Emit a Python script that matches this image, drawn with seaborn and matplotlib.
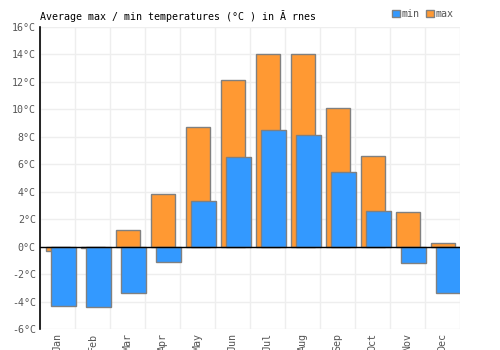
import matplotlib
matplotlib.use("Agg")
import matplotlib.pyplot as plt
import seaborn as sns
import pandas as pd
import numpy as np

sns.set_style("white")
plt.rcParams['font.family'] = ['DejaVu Sans Mono']

# Data
months = ["Jan", "Feb", "Mar", "Apr", "May", "Jun",
          "Jul", "Aug", "Sep", "Oct", "Nov", "Dec"]
t_max = [-0.3, -0.1, 1.2, 3.8, 8.7, 12.1, 14.0, 14.0, 10.1, 6.6, 2.5, 0.3]
t_min = [-4.3, -4.4, -3.4, -1.1, 3.3, 6.5, 8.5, 8.1, 5.4, 2.6, -1.2, -3.4]
y_ticks = list(range(-6, 17, 2))

c_min = "#3399ff"
c_max = "#ff9933"
edge = "#808080"
txt = "#555555"

idx = np.arange(len(months))
df_max = pd.DataFrame({"x": idx + 0.014, "t": t_max})
df_min = pd.DataFrame({"x": idx + 0.17, "t": t_min})

fig = plt.figure(figsize=(5, 3.5), dpi=100)
ax = fig.add_axes([0.08, 0.06, 0.84, 0.863])

sns.barplot(data=df_max, x="x", y="t", native_scale=True, width=0.67,
            color=c_max, edgecolor=edge, linewidth=1, saturation=1, ax=ax, zorder=2)
sns.barplot(data=df_min, x="x", y="t", native_scale=True, width=0.70,
            color=c_min, edgecolor=edge, linewidth=1, saturation=1, ax=ax, zorder=3)

ax.set_xlim(-0.5, 11.5)
ax.set_ylim(-6, 16)
ax.set_yticks(y_ticks)
ax.set_yticklabels([f"{v}°C" for v in y_ticks], color=txt, fontsize=7.2)
ax.set_xticks(idx)
ax.set_xticklabels(months, rotation=90, color=txt, fontsize=7.2, va="top")
ax.set_xticks(np.arange(-0.5, 12, 1), minor=True)
ax.tick_params(axis="both", which="both", length=0, pad=3)
ax.grid(False)
ax.grid(True, which="minor", axis="x", color="#eeeeee", linewidth=1, zorder=0)
ax.grid(True, which="major", axis="y", color="#eeeeee", linewidth=1, zorder=0)
ax.set_axisbelow(True)
for s in ["top", "right", "bottom"]:
    ax.spines[s].set_visible(False)
ax.spines["left"].set_color("black")
ax.spines["left"].set_linewidth(1.2)
ax.axhline(0, color="black", linewidth=1, zorder=4)
ax.set_xlabel("")
ax.set_ylabel("")

fig.text(0.08, 0.955, "Average max / min temperatures (°C ) in Ă rnes",
         fontsize=7.2, color="black", va="center")

from matplotlib.patches import Patch
handles = [Patch(facecolor=c_min, edgecolor=edge, label="min"),
           Patch(facecolor=c_max, edgecolor=edge, label="max")]
fig.legend(handles=handles, loc="center right", bbox_to_anchor=(0.925, 0.96),
           ncol=2, frameon=False, fontsize=7.2, handlelength=0.8, handleheight=0.8,
           handletextpad=0.2, columnspacing=0.6, labelcolor=txt)

fig.savefig("out.png", dpi=100)
